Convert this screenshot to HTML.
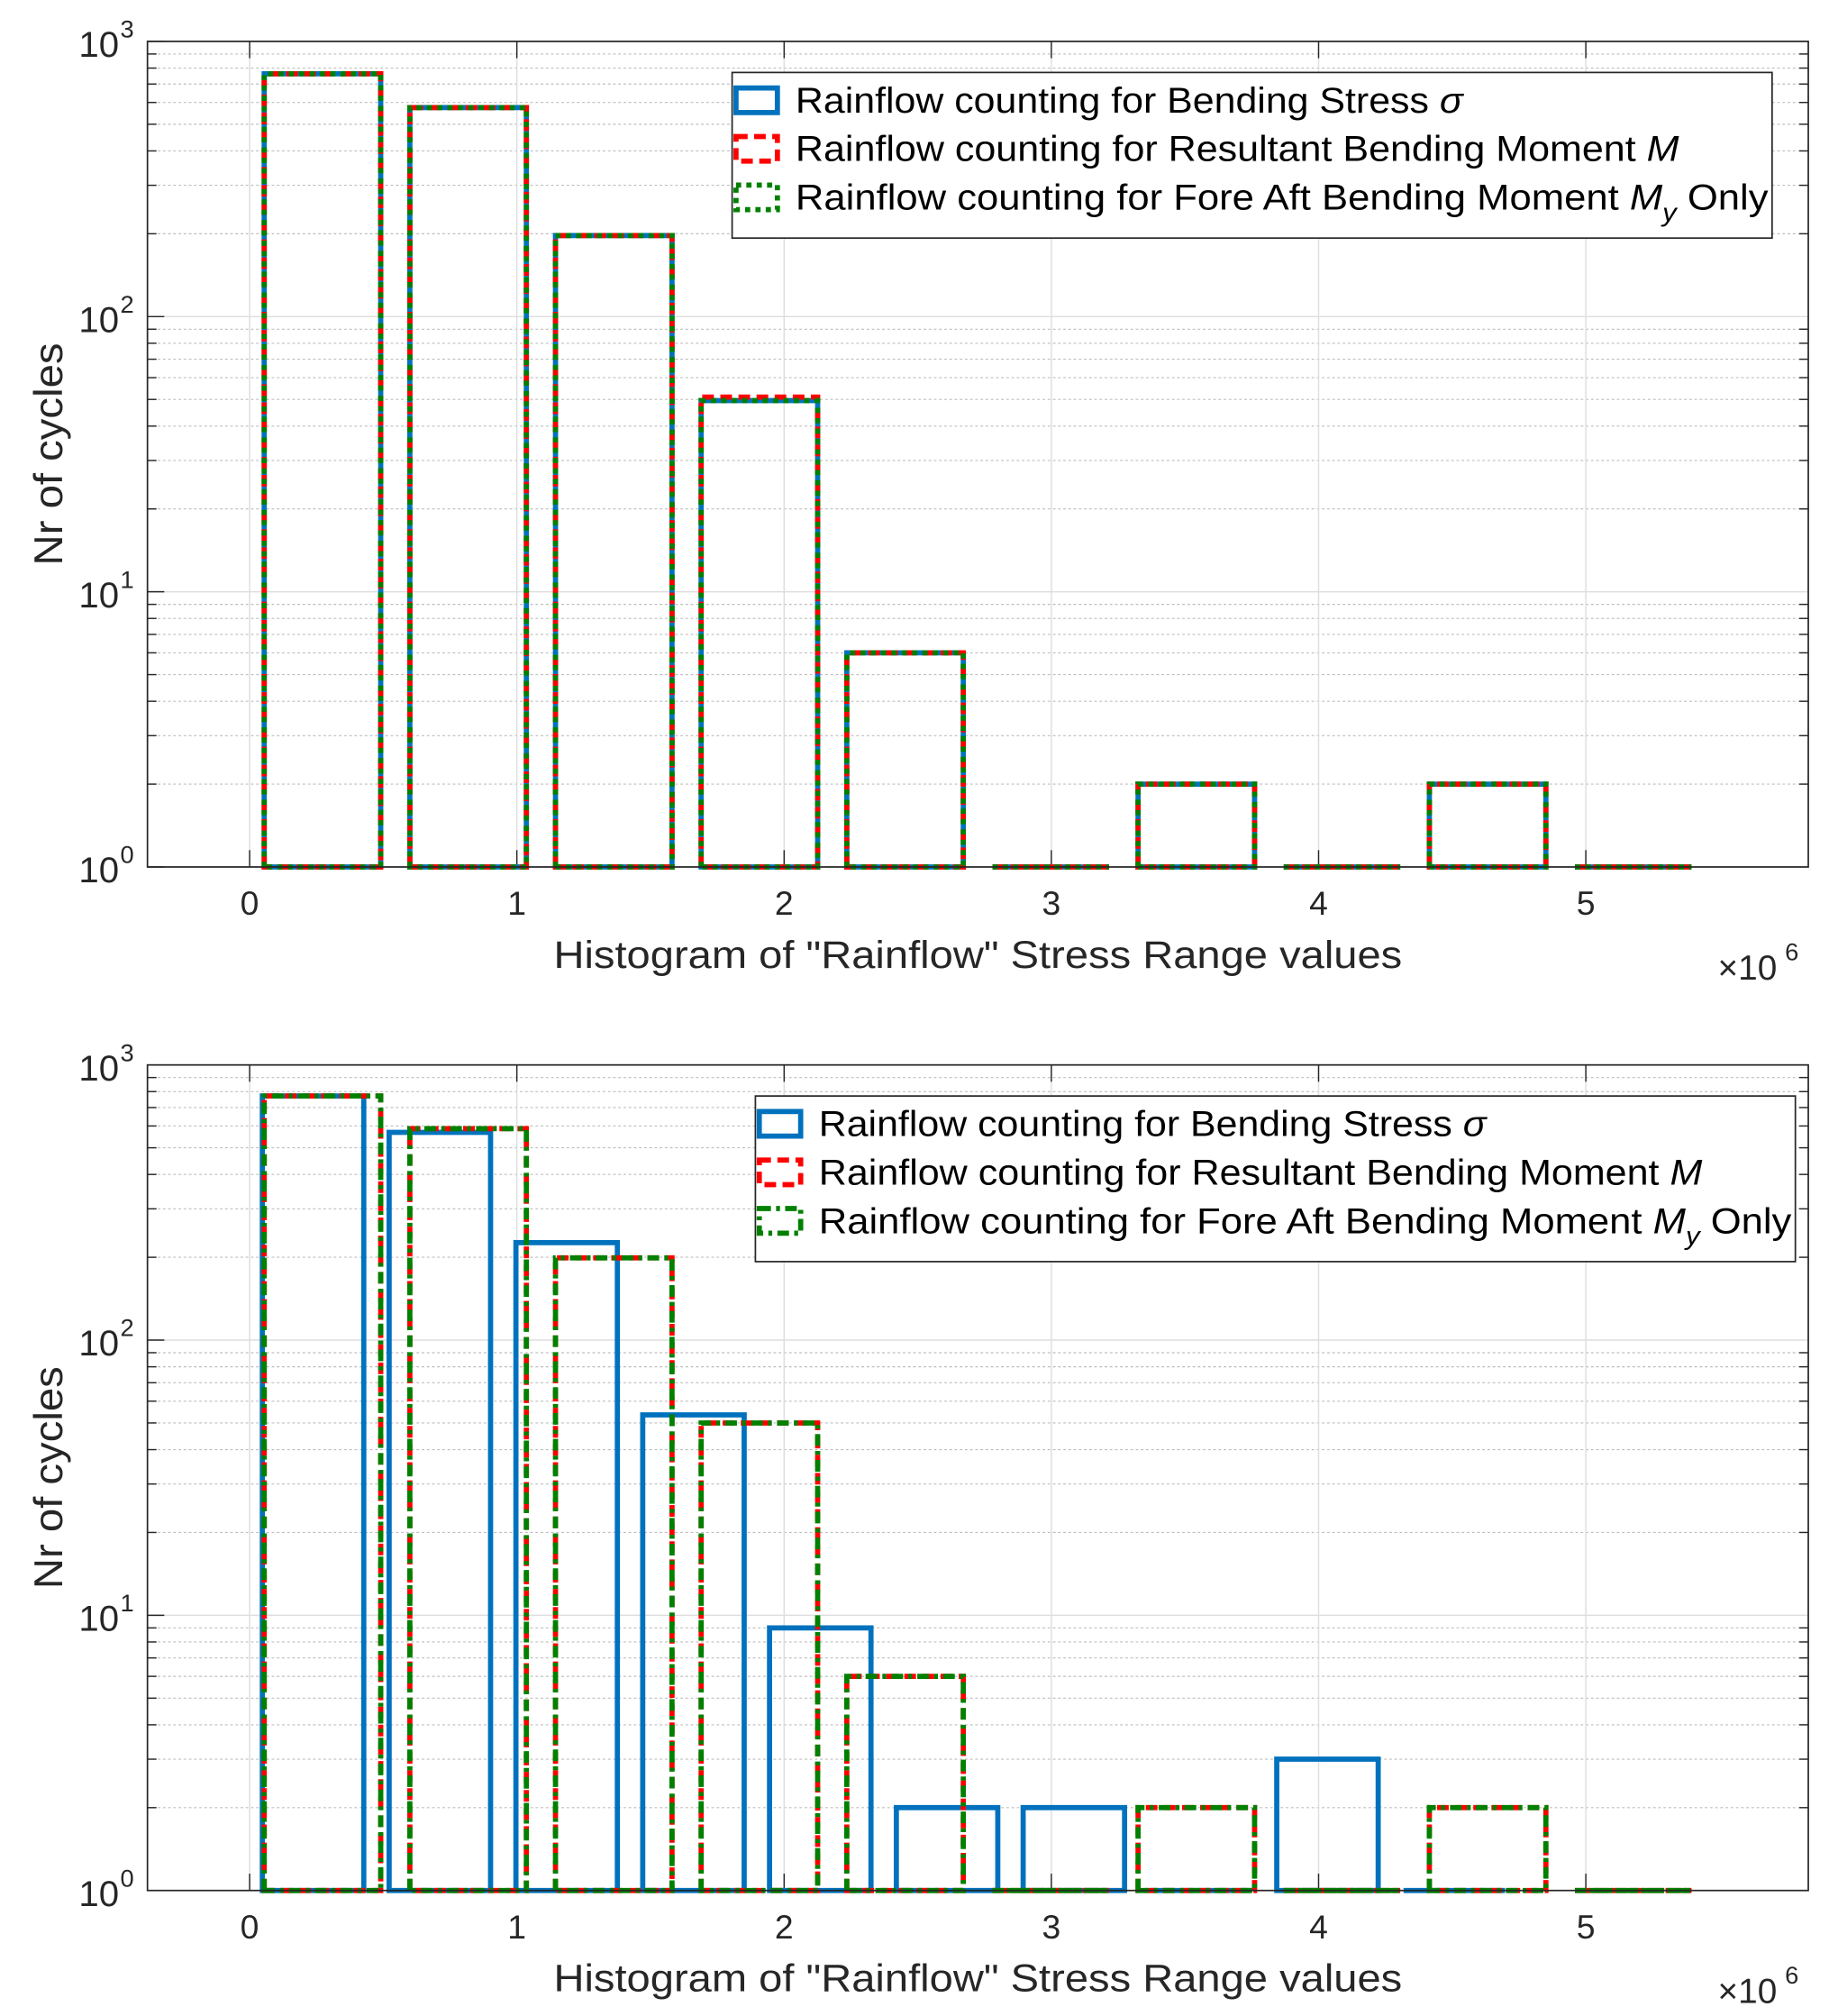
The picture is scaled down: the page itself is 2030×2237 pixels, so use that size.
<!DOCTYPE html>
<html><head><meta charset="utf-8"><style>
html,body{margin:0;padding:0;background:#fff;}
svg{display:block;font-family:"Liberation Sans",sans-serif;}
</style></head><body>
<svg id="chart" width="2030" height="2237" viewBox="0 0 1414 1558" preserveAspectRatio="none" xmlns="http://www.w3.org/2000/svg"></svg>
<script>
// ---- data ----
const xTicks = [0, 1, 2, 3, 4, 5];
const yDecades = [0, 1, 2, 3];
const momentBinWidth = 0.545;   // x1e6
const stressBinWidth = 0.4745;  // x1e6
const topStress = [763, 575, 197, 49.5, 6, 1, 2, 1, 2, 1];
const topMoment = [763, 575, 197, 51, 6, 1, 2, 1, 2, 1];
const topFore   = [763, 575, 197, 49.5, 6, 1, 2, 1, 2, 1];
const botStress = [771, 569, 226, 53.5, 9, 2, 2, 1, 3, 1];
const botMoment = [771, 587, 199, 50, 6, 1, 2, 1, 2, 1];
const botFore   = [771, 587, 199, 50, 6, 1, 2, 1, 2, 1];
const legendTop = ["Rainflow counting for Bending Stress ", "Rainflow counting for Resultant Bending Moment ", "Rainflow counting for Fore Aft Bending Moment  "];
const legendBot = ["Rainflow counting for Bending Stress ", "Rainflow counting for Resultant Bending Moment  ", "Rainflow counting for Fore Aft Bending Moment  "];
const legendLens = [516, 683, 752];

const NS = "http://www.w3.org/2000/svg";
const svg = document.getElementById('chart');
function mk(tag, attrs, parent) {
  const e = document.createElementNS(NS, tag);
  for (const k in attrs) e.setAttribute(k, attrs[k]);
  (parent || svg).appendChild(e);
  return e;
}

function panel(top, stress, moment, fore, foreDash, legX, legTexts, name) {
  const L = 114, R = 1398, T = top, B = top + 638;
  const g = mk('g', {});
  
  
  const xs = v => 193 + v * 206.6;
  const ys = v => B - Math.log10(v) * (B - T) / 3;
  for (const d of [0, 1, 2]) {
    for (let m = 2; m <= 9; m++) {
      const y = ys(m * Math.pow(10, d));
      const l = mk('line', {x1: L, x2: R, y1: y, y2: y, stroke: '#bdbdbd', 'stroke-width': 0.8, 'stroke-dasharray': '2 2'}, g);
      
      
      mk('line', {x1: L, x2: L + 7, y1: y, y2: y, stroke: '#262626', 'stroke-width': 1}, g);
      mk('line', {x1: R, x2: R - 7, y1: y, y2: y, stroke: '#262626', 'stroke-width': 1}, g);
    }
  }
  for (const d of yDecades) {
    const y = ys(Math.pow(10, d));
    const l = mk('line', {x1: L, x2: R, y1: y, y2: y, stroke: '#dedede', 'stroke-width': 1}, g);
    
    
    mk('line', {x1: L, x2: L + 13, y1: y, y2: y, stroke: '#262626', 'stroke-width': 1}, g);
    const t = mk('text', {x: 92, y: y + 12, 'font-size': 28, fill: '#262626', 'text-anchor': 'end'}, g);
    
    
    t.textContent = '10';
    const s = mk('text', {x: 93, y: y - 3, 'font-size': 19, fill: '#262626'}, g);
    s.textContent = String(d);
  }
  for (const v of xTicks) {
    const x = xs(v);
    const l = mk('line', {x1: x, x2: x, y1: T, y2: B, stroke: '#dedede', 'stroke-width': 1}, g);
    
    
    mk('line', {x1: x, x2: x, y1: B, y2: B - 13, stroke: '#262626', 'stroke-width': 1}, g);
    mk('line', {x1: x, x2: x, y1: T, y2: T + 13, stroke: '#262626', 'stroke-width': 1}, g);
    const t = mk('text', {x: x, y: B + 37, 'font-size': 26, fill: '#262626', 'text-anchor': 'middle'}, g);
    
    
    t.textContent = String(v);
  }
  function bars(vals, w, color, dash, nm) {
    vals.forEach((v, i) => {
      const c = (i + 0.5) * w, hw = 0.4 * w;
      const x1 = xs(c - hw), x2 = xs(c + hw), y1 = ys(v), y0 = ys(1);
      const p = mk('path', {d: `M${x1},${y0} L${x1},${y1} L${x2},${y1} L${x2},${y0} Z`, fill: 'none', stroke: color, 'stroke-width': 4, 'stroke-dasharray': dash}, g);
      
      
    });
  }
  bars(stress, stress === topStress ? momentBinWidth : stressBinWidth, '#0072bd', 'none', 'bending-stress');
  bars(moment, momentBinWidth, '#ff0000', '9 5', 'resultant-moment');
  bars(fore, momentBinWidth, '#008000', foreDash, 'fore-aft-moment');
  const box = mk('rect', {x: L, y: T, width: R - L, height: B - T, fill: 'none', stroke: '#262626', 'stroke-width': 1.2}, g);
  
  
  const yl = mk('text', {x: 0, y: 0, 'font-size': 31, fill: '#262626', 'text-anchor': 'middle', textLength: 172, lengthAdjust: 'spacingAndGlyphs', transform: `translate(48,${(T + B) / 2}) rotate(-90)`}, g);
  
  
  yl.textContent = 'Nr of cycles';
  const xl = mk('text', {x: 428, y: B + 78, 'font-size': 30, fill: '#262626', textLength: 656, lengthAdjust: 'spacingAndGlyphs'}, g);
  
  
  xl.textContent = 'Histogram of "Rainflow" Stress Range values';
  const ex = mk('text', {x: 1328, y: B + 87, 'font-size': 27, fill: '#262626'}, g);
  
  
  ex.textContent = '\u00d710';
  mk('text', {x: 1380, y: B + 72, 'font-size': 19, fill: '#262626'}, g).textContent = '6';
  const lg = mk('g', {}, g);
  
  
  mk('rect', {x: legX, y: T + 24, width: 804, height: 128, fill: '#fff', stroke: '#262626', 'stroke-width': 1.2}, lg);
  const cols = ['#0072bd', '#ff0000', '#008000'], dashes = ['none', '9 5', foreDash];
  const syms = ['\u03c3', 'M', 'M'];
  for (let i = 0; i < 3; i++) {
    const cy = T + 45 + i * 37.5;
    const e = mk('g', {}, lg);
    
    
    mk('rect', {x: legX + 3, y: cy - 9, width: 32, height: 19, fill: 'none', stroke: cols[i], 'stroke-width': 4, 'stroke-dasharray': dashes[i]}, e);
    const t = mk('text', {x: legX + 49, y: cy + 10, 'font-size': 28, fill: '#000', textLength: legendLens[i] + (legX - 566) * 0 , lengthAdjust: 'spacingAndGlyphs'}, e);
    t.textContent = legTexts[i];
    const it = mk('tspan', {'font-style': 'italic'}, t);
    it.textContent = syms[i];
    if (i === 2) {
      const sub = mk('tspan', {'font-style': 'italic', 'font-size': 20, dy: 9}, t);
      sub.textContent = 'y';
      const on = mk('tspan', {dy: -9}, t);
      on.textContent = ' Only';
    }
  }
}
panel(32, topStress, topMoment, topFore, '4 4', 566, legendTop, 'top-panel');
panel(823, botStress, botMoment, botFore, '9 4 3 4', 584, legendBot, 'bottom-panel');
</script>
</body></html>
